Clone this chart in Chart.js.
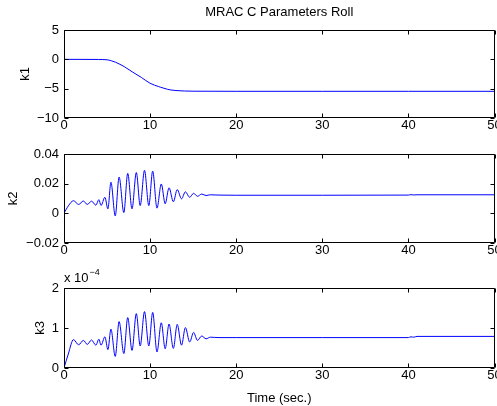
<!DOCTYPE html>
<html>
<head>
<meta charset="utf-8">
<script src="https://cdn.jsdelivr.net/npm/chart.js@4.4.1/dist/chart.umd.min.js"></script>
<style>
  html, body { margin: 0; padding: 0; background: #fff; }
  #wrap { position: relative; width: 497px; height: 406px; overflow: hidden; }
  #wrap canvas { position: absolute; left: 0; }
</style>
</head>
<body>
<div id="wrap">
  <canvas id="c1" width="497" height="135" style="top:0px"></canvas>
  <canvas id="c2" width="497" height="125" style="top:135px"></canvas>
  <canvas id="c3" width="497" height="146" style="top:260px"></canvas>
</div>
<script>
// k1 : slow drift down to about -5.4
const timeK1 = [0, 4, 5, 5.5, 6, 7, 7.3, 8, 9, 10, 11, 11.2, 12, 12.3, 13, 14, 15, 20, 30, 40, 50];
const valuesK1 = [0, -0.02, -0.08, -0.25, -0.5, -1.25, -1.53, -2.2, -3.1, -4.08, -4.65, -4.75, -5.1, -5.2, -5.32, -5.4, -5.43, -5.45, -5.45, -5.45, -5.45];

// k2 and k3 oscillate on the same time base (peaks / troughs)
const timeOsc = [0, 0.5, 1.1, 1.7, 2.25, 2.7, 3.2, 3.7, 4.05, 4.3, 4.75, 5.1, 5.45, 5.95, 6.4, 6.95, 7.4, 7.9,
  8.4, 8.85, 9.35, 9.85, 10.3, 10.8, 11.3, 11.75, 12.2, 12.7, 13.15, 13.65, 14.1, 14.6, 15.05, 15.5,
  16.0, 16.5, 17.0, 18, 20, 30, 40, 40.3, 40.6, 41, 50];
const valuesK2 = [0, 0.005, 0.0085, 0.006, 0.0083, 0.006, 0.0082, 0.0055, 0.0092, 0.0053, 0.0108, 0.003,
  0.021, -0.0018, 0.0245, 0.0005, 0.027, 0.003, 0.0275, 0.0052, 0.029, 0.0052, 0.0285, 0.0035, 0.0198,
  0.0065, 0.0172, 0.0078, 0.016, 0.0098, 0.0145, 0.0108, 0.0135, 0.0115, 0.013, 0.012, 0.0125, 0.0123,
  0.0122, 0.0122, 0.0123, 0.0126, 0.0124, 0.0125, 0.0125];
// k3 in units of 1e-4
const valuesK3 = [0, 0.35, 0.71, 0.58, 0.69, 0.59, 0.70, 0.57, 0.72, 0.57, 0.78, 0.46, 0.97, 0.29, 1.16,
  0.36, 1.26, 0.44, 1.36, 0.55, 1.41, 0.55, 1.39, 0.40, 1.13, 0.48, 1.10, 0.49, 1.09, 0.57, 1.01, 0.65,
  0.89, 0.69, 0.80, 0.73, 0.77, 0.76, 0.76, 0.76, 0.76, 0.78, 0.77, 0.79, 0.79];

const xTicks = [0, 10, 20, 30, 40, 50];

Chart.defaults.font.family = "'Liberation Sans', Arial, sans-serif";
Chart.defaults.font.size = 13;
Chart.defaults.color = "#000";

const minus = (s) => String(s).replace("-", "\u2212");

// matlab style frame: box + inward ticks on all 4 sides
const boxPlugin = {
  id: "box",
  afterDatasetsDraw(chart, args, opts) {
    const { ctx, chartArea: a, scales } = chart;
    const L = Math.round(a.left) + 0.5, R = Math.round(a.right) - 0.5;
    const T = Math.round(a.top) + 0.5, B = Math.round(a.bottom) - 0.5;
    ctx.save();
    ctx.strokeStyle = "#000";
    ctx.lineWidth = 1;
    ctx.beginPath();
    ctx.rect(L, T, R - L, B - T);
    scales.x.ticks.forEach((t) => {
      const px = Math.round(scales.x.getPixelForValue(t.value)) + 0.5;
      ctx.moveTo(px, B); ctx.lineTo(px, B - 4);
      ctx.moveTo(px, T); ctx.lineTo(px, T + 4);
    });
    scales.y.ticks.forEach((t) => {
      const py = Math.round(scales.y.getPixelForValue(t.value)) + 0.5;
      ctx.moveTo(L, py); ctx.lineTo(L + 4, py);
      ctx.moveTo(R, py); ctx.lineTo(R - 4, py);
    });
    ctx.stroke();
    if (opts.exponent) {
      ctx.fillStyle = "#000";
      ctx.textBaseline = "alphabetic";
      ctx.font = "13px 'Liberation Sans', Arial, sans-serif";
      ctx.fillText("x 10", a.left, a.top - 6);
      const w = ctx.measureText("x 10").width;
      ctx.font = "9px 'Liberation Sans', Arial, sans-serif";
      ctx.fillText(opts.exponent, a.left + w + 1, a.top - 13);
    }
    ctx.restore();
  },
};

function makeChart(id, times, values, cfg) {
  const pts = times.map((t, i) => ({ x: t, y: values[i] }));
  return new Chart(document.getElementById(id), {
    type: "line",
    data: {
      datasets: [{
        data: pts,
        borderColor: "#0000ff",
        borderWidth: 1,
        pointRadius: 0,
        cubicInterpolationMode: "monotone",
        fill: false,
      }],
    },
    options: {
      responsive: false,
      animation: false,
      layout: { padding: { top: cfg.padTop, right: 2.5, left: 0, bottom: 0 } },
      plugins: {
        legend: { display: false },
        tooltip: { enabled: false },
        title: cfg.title
          ? { display: true, fullSize: false, text: cfg.title, font: { size: 13, weight: "normal" }, color: "#000", padding: { top: 5, bottom: 9.4 } }
          : { display: false },
        box: { exponent: cfg.exponent || null },
      },
      scales: {
        x: {
          type: "linear",
          min: 0,
          max: 50,
          afterBuildTicks: (s) => { s.ticks = xTicks.map((v) => ({ value: v })); },
          ticks: { padding: 0, maxRotation: 0, autoSkip: false },
          grid: { display: false, drawTicks: false },
          border: { display: false },
          title: cfg.xTitle
            ? { display: true, text: cfg.xTitle, font: { size: 13 }, padding: { top: 0, bottom: 0 } }
            : { display: false },
          afterFit: (s) => { s.height = cfg.xHeight; s.paddingLeft = 0; s.paddingRight = 0; },
        },
        y: {
          min: cfg.yMin,
          max: cfg.yMax,
          afterBuildTicks: (s) => { s.ticks = cfg.yTicks.map((v) => ({ value: v })); },
          ticks: { padding: 5, callback: (v) => minus(v) },
          grid: { display: false, drawTicks: false },
          border: { display: false },
          title: { display: true, text: cfg.yTitle, font: { size: 13 }, padding: { top: cfg.yTitlePad, bottom: 0 } },
          afterFit: (s) => { s.width = 64; s.paddingTop = 0; s.paddingBottom = 0; },
        },
      },
    },
    plugins: [boxPlugin],
  });
}

makeChart("c1", timeK1, valuesK1, {
  title: "MRAC C Parameters Roll", padTop: 0, xHeight: 17,
  yMin: -10, yMax: 5, yTicks: [-10, -5, 0, 5], yTitle: "k1", yTitlePad: 17.2,
});
makeChart("c2", timeOsc, valuesK2, {
  padTop: 19, xHeight: 17,
  yMin: -0.02, yMax: 0.04, yTicks: [-0.02, 0, 0.02, 0.04], yTitle: "k2", yTitlePad: 5.2,
});
makeChart("c3", timeOsc, valuesK3, {
  padTop: 28, xHeight: 38, xTitle: "Time (sec.)", exponent: "\u22124",
  yMin: 0, yMax: 2, yTicks: [0, 1, 2], yTitle: "k3", yTitlePad: 32.2,
});
</script>
</body>
</html>
